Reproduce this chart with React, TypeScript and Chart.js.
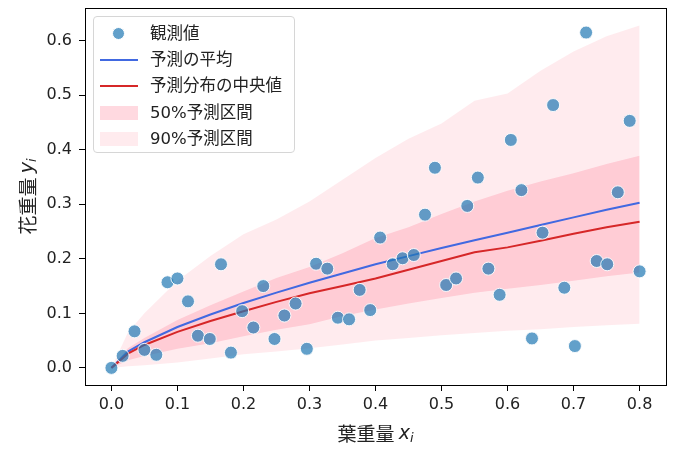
import { useEffect, useRef } from "react";
import Chart from "chart.js/auto";

// observed points (leaf weight x, flower weight y)
const obsX = [
  0.0, 0.017, 0.035, 0.05, 0.068, 0.085, 0.1, 0.116, 0.131, 0.149,
  0.166, 0.181, 0.198, 0.215, 0.23, 0.247, 0.262, 0.279, 0.296, 0.31,
  0.327, 0.343, 0.36, 0.376, 0.392, 0.407, 0.426, 0.441, 0.458, 0.475,
  0.49, 0.507, 0.522, 0.539, 0.555, 0.571, 0.588, 0.605, 0.621, 0.637,
  0.653, 0.669, 0.686, 0.702, 0.719, 0.735, 0.751, 0.767, 0.785, 0.8,
];
const obsY = [
  0.0, 0.022, 0.067, 0.033, 0.024, 0.157, 0.164, 0.122, 0.059, 0.053,
  0.19, 0.028, 0.104, 0.074, 0.15, 0.053, 0.096, 0.118, 0.035, 0.191,
  0.182, 0.092, 0.089, 0.143, 0.106, 0.239, 0.19, 0.201, 0.207, 0.281,
  0.367, 0.152, 0.164, 0.297, 0.349, 0.182, 0.134, 0.418, 0.326, 0.054,
  0.248, 0.482, 0.147, 0.04, 0.615, 0.196, 0.19, 0.322, 0.453, 0.177,
];

// prediction grid
const gridX = [
  0.0, 0.025, 0.05, 0.1, 0.15, 0.2, 0.25, 0.3, 0.35, 0.4, 0.45, 0.5, 0.55, 0.6,
  0.65, 0.7, 0.75, 0.8,
];
const meanY = [
  0.0, 0.03, 0.047, 0.075, 0.098, 0.119, 0.138, 0.156, 0.173, 0.19, 0.205, 0.22,
  0.234, 0.248, 0.262, 0.276, 0.29, 0.303,
];
const medianY = [
  0.0, 0.026, 0.042, 0.066, 0.086, 0.104, 0.121, 0.137, 0.15, 0.164, 0.18, 0.196,
  0.212, 0.221, 0.233, 0.246, 0.258, 0.268,
];
const pi50Lo = [
  0.0, 0.014, 0.022, 0.035, 0.045, 0.058, 0.07, 0.08, 0.095, 0.107, 0.118, 0.128,
  0.138, 0.145, 0.152, 0.16, 0.168, 0.175,
];
const pi50Hi = [
  0.0, 0.036, 0.055, 0.088, 0.115, 0.14, 0.165, 0.185, 0.21, 0.238, 0.258, 0.282,
  0.305, 0.325, 0.342, 0.357, 0.374, 0.389,
];
const pi90Lo = [
  0.0, 0.003, 0.005, 0.01, 0.017, 0.025, 0.03, 0.036, 0.043, 0.05, 0.055, 0.06,
  0.064, 0.068, 0.071, 0.075, 0.078, 0.081,
];
const pi90Hi = [
  0.0, 0.065, 0.1, 0.16, 0.205, 0.245, 0.272, 0.305, 0.345, 0.385, 0.42, 0.448,
  0.49, 0.503, 0.545, 0.58, 0.608, 0.628,
];

const xTicks = [0, 0.1, 0.2, 0.3, 0.4, 0.5, 0.6, 0.7, 0.8];
const yTicks = [0, 0.1, 0.2, 0.3, 0.4, 0.5, 0.6];

const legendLabels = ["観測値", "予測の平均", "予測分布の中央値", "50%予測区間", "90%予測区間"];

const POINT = "rgba(31,119,180,0.7)";
const MEAN = "#4169e1";
const MEDIAN = "#d62728";
const BAND50 = "rgba(255,160,178,0.42)";
const BAND90 = "rgba(255,192,203,0.32)";
const TICK_FONT = '"DejaVu Sans", "Noto Sans CJK JP", sans-serif';
const JP_FONT = '"Noto Sans CJK JP", "DejaVu Sans", sans-serif';

const toXY = (xs: number[], ys: number[]) => xs.map((x, i) => ({ x, y: ys[i] }));

type Part = { text: string; font: string; dy?: number };

function drawParts(ctx: CanvasRenderingContext2D, parts: Part[], cx: number, cy: number, rot: number) {
  ctx.save();
  ctx.translate(cx, cy);
  ctx.rotate(rot);
  ctx.fillStyle = "#222";
  ctx.textBaseline = "middle";
  ctx.textAlign = "left";
  let total = 0;
  for (const p of parts) {
    ctx.font = p.font;
    total += ctx.measureText(p.text).width;
  }
  let x = -total / 2;
  for (const p of parts) {
    ctx.font = p.font;
    ctx.fillText(p.text, x, p.dy ?? 0);
    x += ctx.measureText(p.text).width;
  }
  ctx.restore();
}

const framePlugin = {
  id: "frameAndTitles",
  afterDatasetsDraw(chart: any) {
    const { ctx, chartArea: a } = chart;
    ctx.save();
    ctx.strokeStyle = "#000";
    ctx.lineWidth = 1;
    ctx.strokeRect(Math.round(a.left) + 0.5, Math.round(a.top) + 0.5, Math.round(a.right - a.left), Math.round(a.bottom - a.top));
    ctx.restore();
    const mid = (a.left + a.right) / 2;
    drawParts(
      ctx,
      [
        { text: "葉重量 ", font: `19px ${JP_FONT}` },
        { text: "x", font: `italic 19px ${TICK_FONT}` },
        { text: "i", font: `italic 13px ${TICK_FONT}`, dy: 5 },
      ],
      mid,
      434,
      0
    );
    drawParts(
      ctx,
      [
        { text: "花重量 ", font: `19px ${JP_FONT}` },
        { text: "y", font: `italic 19px ${TICK_FONT}` },
        { text: "i", font: `italic 13px ${TICK_FONT}`, dy: 5 },
      ],
      28,
      (a.top + a.bottom) / 2,
      -Math.PI / 2
    );
  },
};

function band(data: { x: number; y: number }[], color: string, fill: any, order: number) {
  return {
    type: "line" as const,
    data,
    borderColor: "transparent",
    backgroundColor: color,
    pointRadius: 0,
    tension: 0,
    fill,
    order,
  };
}

function Legend() {
  const row = (i: number, handle: JSX.Element) => (
    <div key={i} style={{ position: "absolute", left: 0, top: 4 + i * 26.2, height: 26, width: "100%" }}>
      <div style={{ position: "absolute", left: 6, top: 0, width: 38, height: 26 }}>{handle}</div>
      <span
        style={{
          position: "absolute",
          left: 56,
          top: 0,
          lineHeight: "26px",
          fontSize: 16.5,
          color: "#222",
          fontFamily: TICK_FONT,
          whiteSpace: "nowrap",
        }}
      >
        {legendLabels[i]}
      </span>
    </div>
  );
  return (
    <div
      style={{
        position: "absolute",
        left: 93,
        top: 16,
        width: 202,
        height: 137,
        border: "1px solid #d6d6d6",
        borderRadius: 4,
        background: "rgba(255,255,255,0.85)",
        boxSizing: "border-box",
      }}
    >
      {row(
        0,
        <div style={{ position: "absolute", left: 12, top: 6, width: 13, height: 13, borderRadius: "50%", background: POINT, border: "1px solid #fff", boxSizing: "border-box" }} />
      )}
      {row(1, <div style={{ position: "absolute", left: 0, top: 12, width: 38, height: 2, background: MEAN }} />)}
      {row(2, <div style={{ position: "absolute", left: 0, top: 12, width: 38, height: 2, background: MEDIAN }} />)}
      {row(3, <div style={{ position: "absolute", left: 0, top: 6, width: 38, height: 14, background: "rgba(255,170,186,0.45)" }} />)}
      {row(4, <div style={{ position: "absolute", left: 0, top: 6, width: 38, height: 14, background: BAND90 }} />)}
    </div>
  );
}

export default function App() {
  const canvasRef = useRef<HTMLCanvasElement>(null);
  const chartRef = useRef<Chart | null>(null);

  useEffect(() => {
    if (!canvasRef.current) return;

    const grid = {
      display: true,
      drawOnChartArea: false,
      drawTicks: true,
      tickLength: 6,
      tickColor: "#000",
      tickWidth: 1,
    };

    chartRef.current = new Chart(canvasRef.current, {
      type: "scatter",
      data: {
        datasets: [
          {
            type: "scatter",
            data: toXY(obsX, obsY),
            backgroundColor: POINT,
            borderColor: "rgba(255,255,255,0.9)",
            borderWidth: 1,
            pointRadius: 6.5,
            order: 0,
          },
          {
            type: "line",
            data: toXY(gridX, medianY),
            borderColor: MEDIAN,
            borderWidth: 2,
            pointRadius: 0,
            tension: 0,
            fill: false,
            order: 1,
          },
          {
            type: "line",
            data: toXY(gridX, meanY),
            borderColor: MEAN,
            borderWidth: 2,
            pointRadius: 0,
            tension: 0,
            fill: false,
            order: 2,
          },
          band(toXY(gridX, pi50Lo), "transparent", false, 3),
          band(toXY(gridX, pi50Hi), BAND50, 3, 3),
          band(toXY(gridX, pi90Lo), "transparent", false, 5),
          band(toXY(gridX, pi90Hi), BAND90, 5, 5),
        ] as any,
      },
      plugins: [framePlugin],
      options: {
        animation: false,
        responsive: true,
        maintainAspectRatio: false,
        layout: { padding: { left: 0, top: 8, right: 18, bottom: 0 } },
        plugins: {
          legend: { display: false },
          tooltip: { enabled: false },
        },
        scales: {
          x: {
            type: "linear",
            min: -0.04,
            max: 0.84,
            grid,
            border: { display: false },
            afterBuildTicks: (s: any) => {
              s.ticks = xTicks.map((v) => ({ value: v }));
            },
            afterFit: (s: any) => {
              s.height = 73;
              s.paddingLeft = 0;
              s.paddingRight = 0;
            },
            ticks: {
              padding: 4,
              color: "#222",
              font: { family: TICK_FONT, size: 16 },
              maxRotation: 0,
              callback: (v: any) => Number(v).toFixed(1),
            },
          },
          y: {
            type: "linear",
            min: -0.0314,
            max: 0.66,
            grid,
            border: { display: false },
            afterBuildTicks: (s: any) => {
              s.ticks = yTicks.map((v) => ({ value: v }));
            },
            afterFit: (s: any) => {
              s.width = 85;
              s.paddingTop = 0;
              s.paddingBottom = 0;
            },
            ticks: {
              padding: 7,
              color: "#222",
              font: { family: TICK_FONT, size: 16 },
              callback: (v: any) => Number(v).toFixed(1),
            },
          },
        },
      },
    });

    return () => {
      chartRef.current?.destroy();
      chartRef.current = null;
    };
  }, []);

  return (
    <div style={{ position: "fixed", left: 0, top: 0, width: 684, height: 458, background: "#fff" }}>
      <canvas ref={canvasRef} />
      <Legend />
    </div>
  );
}
